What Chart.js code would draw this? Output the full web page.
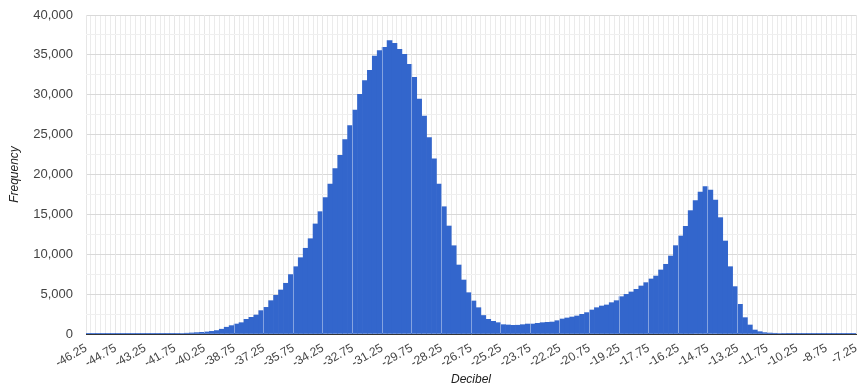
<!DOCTYPE html>
<html>
<head>
<meta charset="utf-8">
<title>Decibel histogram</title>
<script src="https://cdn.jsdelivr.net/npm/chart.js@4.4.1/dist/chart.umd.min.js"></script>
<style>
  body { margin: 0; background: #fff; }
  canvas { display: block; }
</style>
</head>
<body>
<canvas id="chart" width="859" height="387"></canvas>
<script>
// histogram buckets: 0.25 dB wide, starting at -46.25 dB
const binStart = -46.25;
const binWidth = 0.25;
const counts = [
  2, 3, 3, 4, 4, 5, 6, 7, 8, 9, 11, 13, 15, 18, 21, 25, 30, 35,
  45, 70, 100, 130, 170, 210, 260, 330, 430, 600, 850, 1050, 1250, 1420,
  1840, 2090, 2380, 2930, 3340, 4180, 4850, 5520, 6360, 7450,
  8440, 9570, 10750, 11950, 13800, 15340, 17100, 18800, 20730, 22400,
  24370, 26120, 28090, 30060, 31770, 33070, 34860, 35530, 35950, 36780,
  36450, 35700, 35070, 33820, 32190, 29470, 27340, 24620, 21950, 18810,
  15960, 13540, 11070, 8650, 6770, 5180, 4140, 3300, 2320, 1840,
  1590, 1420, 1170, 1130, 1090, 1100, 1170, 1250, 1250, 1340,
  1420, 1460, 1500, 1670, 1880, 2010, 2130, 2260, 2470, 2680,
  3010, 3300, 3510, 3640, 3930, 4180, 4680, 4970, 5270, 5600,
  6020, 6440, 6900, 7270, 8030, 8740, 9780, 11080, 12290, 13500,
  15470, 16720, 17810, 18470, 18060, 16800, 14590, 11660, 8440, 5940,
  3720, 2050, 1130, 500, 290, 170, 120, 90, 65, 50,
  40, 33, 28, 24, 20, 17, 14, 12, 10, 8,
  7, 6, 5, 4
];
const xTickLabels = [
  -46.25, -44.75, -43.25, -41.75, -40.25, -38.75, -37.25, -35.75, -34.25,
  -32.75, -31.25, -29.75, -28.25, -26.75, -25.25, -23.75, -22.25, -20.75,
  -19.25, -17.75, -16.25, -14.75, -13.25, -11.75, -10.25, -8.75, -7.25
];
const yTickLabels = [0, 5000, 10000, 15000, 20000, 25000, 30000, 35000, 40000];

const points = counts.map((c, i) => ({ x: binStart + (i + 0.5) * binWidth, y: c }));

const isMajorX = v => xTickLabels.some(t => Math.abs(t - v) < 1e-6);
const isMajorY = v => yTickLabels.includes(v);

Chart.defaults.font.family = 'Arial, "Liberation Sans", sans-serif';
Chart.defaults.color = '#444';

// faint light lines over the bars at the labelled positions
const majorLinesOverBars = {
  id: 'majorLinesOverBars',
  afterDatasetsDraw(chart) {
    const { ctx, chartArea, scales } = chart;
    ctx.save();
    ctx.strokeStyle = 'rgba(255,255,255,0.4)';
    ctx.lineWidth = 1;
    xTickLabels.forEach(v => {
      const px = Math.round(scales.x.getPixelForValue(v) - 0.5) + 0.5;
      ctx.beginPath();
      ctx.moveTo(px, chartArea.top);
      ctx.lineTo(px, chartArea.bottom - 1);
      ctx.stroke();
    });
    ctx.restore();
  }
};

new Chart(document.getElementById('chart'), {
  type: 'bar',
  data: {
    datasets: [{
      data: points,
      backgroundColor: '#3366cc',
      borderWidth: 0,
      barPercentage: 1,
      categoryPercentage: 1
    }]
  },
  plugins: [majorLinesOverBars],
  options: {
    responsive: false,
    animation: false,
    layout: { padding: { top: 15, right: 3, left: 0, bottom: 0 } },
    plugins: { legend: { display: false }, tooltip: { enabled: false } },
    scales: {
      x: {
        type: 'linear',
        min: xTickLabels[0],
        max: xTickLabels[xTickLabels.length - 1],
        offset: false,
        afterBuildTicks: scale => {
          const ticks = [];
          for (let v = scale.min; v <= scale.max + 1e-6; v += binWidth) {
            ticks.push({ value: Math.round(v * 100) / 100 });
          }
          scale.ticks = ticks;
        },
        afterFit: scale => {
          scale.height = 53;
          scale.paddingRight = 0;
        },
        grid: {
          offset: false,
          drawTicks: false,
          color: ctx => (ctx.tick && isMajorX(ctx.tick.value)) ? '#d6d6d6' : '#ebebeb'
        },
        border: { color: '#333', z: 1 },
        ticks: {
          autoSkip: false,
          minRotation: 30,
          maxRotation: 30,
          padding: 7,
          font: { size: 12 },
          color: '#444',
          callback: v => isMajorX(v) ? v.toFixed(2) : ''
        },
        title: {
          display: true,
          text: 'Decibel',
          font: { size: 12, style: 'italic' },
          color: '#222',
          padding: { top: 0, bottom: 0 }
        }
      },
      y: {
        min: 0,
        max: 40000,
        afterBuildTicks: scale => {
          const ticks = [];
          for (let v = 0; v <= 40000; v += 2500) ticks.push({ value: v });
          scale.ticks = ticks;
        },
        afterFit: scale => {
          scale.width = 86;
          scale.paddingTop = 0;
          scale.paddingBottom = 0;
        },
        grid: {
          drawTicks: false,
          color: ctx => (ctx.tick && isMajorY(ctx.tick.value)) ? '#d9d9d9' : '#efefef'
        },
        border: { display: false },
        ticks: {
          padding: 13,
          font: { size: 13 },
          color: '#444',
          callback: v => isMajorY(v) ? v.toLocaleString('en-US') : ''
        },
        title: {
          display: true,
          text: 'Frequency',
          font: { size: 12, style: 'italic' },
          color: '#222',
          padding: { top: 7, bottom: 0 }
        }
      }
    }
  }
});
</script>
</body>
</html>
